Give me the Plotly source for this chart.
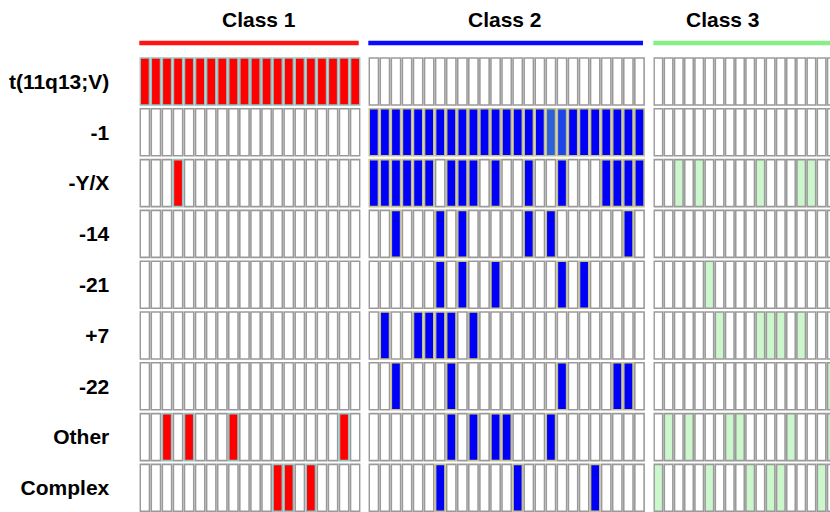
import plotly.graph_objects as go

# Cytogenetic abnormalities (rows) across samples grouped in three classes
ROWS = ["t(11q13;V)", "-1", "-Y/X", "-14", "-21", "+7", "-22", "Other", "Complex"]

CLASS_NAMES = ["Class 1", "Class 2", "Class 3"]
CLASS_SIZES = [20, 25, 18]

# indices of samples carrying each abnormality, one list per row (same order as ROWS)
CLASS1_HITS = [
    list(range(20)),
    [],
    [3],
    [],
    [],
    [],
    [],
    [2, 4, 8, 18],
    [12, 13, 15],
]
CLASS2_HITS = [
    [],
    list(range(25)),
    [0, 1, 2, 3, 4, 5, 7, 8, 9, 11, 14, 17, 21, 22, 23, 24],
    [2, 6, 8, 14, 16, 23],
    [6, 8, 11, 17, 19],
    [1, 4, 5, 6, 7, 9],
    [2, 7, 17, 22, 23],
    [7, 9, 11, 12, 16],
    [6, 13, 20],
]
CLASS3_HITS = [
    [],
    [],
    [2, 4, 10, 14, 15],
    [],
    [5],
    [6, 10, 11, 12, 14],
    [17],
    [1, 3, 7, 8, 13, 17],
    [0, 5, 9, 11, 12, 16],
]
HITS = [CLASS1_HITS, CLASS2_HITS, CLASS3_HITS]

# two "-1" cells in Class 2 drawn in a softer blue
CLASS2_SOFT = {(1, 16): "#2b62dc", (1, 17): "#1c46e8"}

FILL = ["#ff0000", "#0000f8", "#ccf6cc"]
EDGE = ["#93c2c2", "#c2bf8c", "#9a9a9a"]
HEADER = ["#ff1414", "#0a0aff", "#86f086"]
EMPTY_FILL = "#ffffff"
EMPTY_EDGE = "#9a9a9a"

# layout in pixels
W, H = 830, 512
ROW_TOP = 58.0
ROW_PITCH = 50.8
CELL_H = 0.925
CELL_W = 0.84
CLASS_PX = [(139.3, 360.7), (368.3, 645.0), (653.3, 830.0)]
CLASS3_PITCH = 10.2
TITLE_X = [259, 505, 723]
HEADER_Y = 43
FONT = "Liberation Sans, Arial, sans-serif"

fig = go.Figure()
axis_names = ["x", "x2", "x3"]

for c in range(3):
    xs, ys, bases, fills, edges = [], [], [], [], []
    for r in range(len(ROWS)):
        hits = set(HITS[c][r])
        for i in range(CLASS_SIZES[c]):
            xs.append(i)
            ys.append(CELL_H)
            bases.append(r)
            if i in hits:
                col = FILL[c]
                if c == 1 and (r, i) in CLASS2_SOFT:
                    col = CLASS2_SOFT[(r, i)]
                fills.append(col)
                edges.append(EDGE[c])
            else:
                fills.append(EMPTY_FILL)
                edges.append(EMPTY_EDGE)
    fig.add_trace(go.Bar(
        x=xs, y=ys, base=bases, width=CELL_W,
        marker=dict(color=fills, line=dict(color=edges, width=1.6)),
        xaxis=axis_names[c], yaxis="y",
        hoverinfo="skip", showlegend=False,
    ))

# x axes: one per class, sized to its pixel span
x_layout = {}
for c in range(3):
    x0, x1 = CLASS_PX[c]
    if c < 2:
        rng = [-0.5, CLASS_SIZES[c] - 0.5]
    else:
        rng = [-0.5, -0.5 + (x1 - x0) / CLASS3_PITCH]
    key = "xaxis" if c == 0 else f"xaxis{c + 1}"
    x_layout[key] = dict(
        domain=[x0 / W, x1 / W], range=rng, anchor="y",
        showgrid=False, zeroline=False, showticklabels=False,
        ticks="", showline=False, fixedrange=True,
    )

y_top = -ROW_TOP / ROW_PITCH
y_bot = (H - ROW_TOP) / ROW_PITCH

fig.update_layout(
    width=W, height=H,
    margin=dict(l=0, r=0, t=0, b=0),
    paper_bgcolor="white", plot_bgcolor="white",
    barmode="overlay",
    yaxis=dict(
        domain=[0, 1], range=[y_bot, y_top], anchor="x",
        tickvals=[r + CELL_H / 2 for r in range(len(ROWS))],
        ticktext=ROWS, ticks="", showgrid=False, zeroline=False,
        showline=False, ticklabelstandoff=29,
        tickfont=dict(family=FONT, size=21, color="#000000", weight="bold"),
    ),
    **x_layout,
)

# class headers: coloured bar and bold title
for c in range(3):
    x0, x1 = CLASS_PX[c]
    fig.add_shape(type="line", xref="paper", yref="paper",
                  x0=x0 / W, x1=min(x1 - 2, W) / W if c < 2 else 1.0,
                  y0=1 - HEADER_Y / H, y1=1 - HEADER_Y / H,
                  line=dict(color=HEADER[c], width=4.5))
    fig.add_annotation(text=CLASS_NAMES[c], xref="paper", yref="paper",
                       x=TITLE_X[c] / W, y=1 - 19 / H,
                       xanchor="center", yanchor="middle", showarrow=False,
                       font=dict(family=FONT, size=21, color="#000000",
                                 weight="bold"))

fig.write_html("out.html")
